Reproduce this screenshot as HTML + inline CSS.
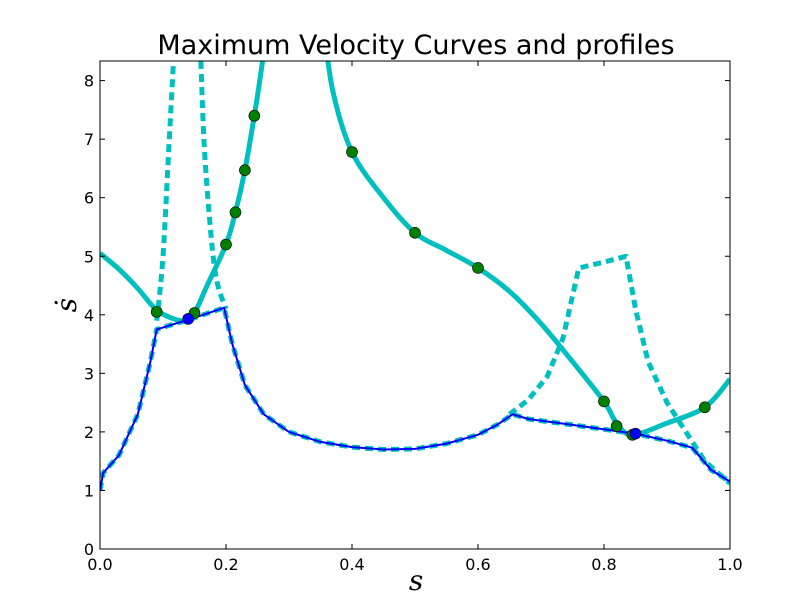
<!DOCTYPE html>
<html><head><meta charset="utf-8"><style>
body{margin:0;background:#fff;}
svg{display:block;font-family:"Liberation Sans","DejaVu Sans",sans-serif;}
</style></head><body>
<svg id="chart" width="812" height="612">
<defs><clipPath id="clip"><rect x="100" y="61" width="630" height="488"/></clipPath></defs>
<rect x="0" y="0" width="812" height="612" fill="#fff"/>
<text x="416" y="54" font-size="27" text-anchor="middle" font-family="DejaVu Sans,sans-serif">Maximum Velocity Curves and profiles</text>
<g id="plot" clip-path="url(#clip)"></g>
<g id="axes"></g>
<rect x="100" y="61" width="630" height="488" fill="none" stroke="#000" stroke-width="1"/>
<text x="416" y="590" font-size="28" font-style="italic" font-family="DejaVu Serif,serif" text-anchor="middle">s</text>
<text x="76" y="305" font-size="28" font-style="italic" font-family="DejaVu Serif,serif" text-anchor="middle" transform="rotate(-90 76 305)">ṡ</text>
</svg>
<script>
const xTicks=[0,0.2,0.4,0.6,0.8,1.0];
const xTickLabels=["0.0","0.2","0.4","0.6","0.8","1.0"];
const yTicks=[0,1,2,3,4,5,6,7,8];
const mvcLeftS=[0,0.03,0.06,0.09,0.12,0.14,0.15,0.17,0.2,0.215,0.23,0.245,0.255,0.265];
const mvcLeftV=[5.05,4.78,4.45,4.08,3.92,3.9,4.02,4.5,5.2,5.75,6.47,7.4,8.1,8.9];
const mvcRightS=[0.355,0.37,0.4,0.45,0.5,0.55,0.6,0.65,0.7,0.75,0.8,0.82,0.845,0.9,0.96,1.0];
const mvcRightV=[8.9,7.8,6.78,6.0,5.4,5.1,4.8,4.4,3.85,3.2,2.52,2.15,1.95,2.15,2.42,2.9];
const dashAS=[0.09,0.1,0.11,0.12];
const dashAV=[3.9,5.0,7.0,9.0];
const dashBS=[0.158,0.165,0.175,0.185,0.2];
const dashBV=[9.0,7.0,5.5,4.6,4.1];
const dashCS=[0.65,0.68,0.71,0.735,0.76,0.8,0.835,0.85,0.87,0.9,0.93,0.96,1.0];
const dashCV=[2.3,2.55,2.95,3.6,4.8,4.9,5.0,4.1,3.2,2.5,2.0,1.5,1.12];
const profS=[0,0.005,0.03,0.06,0.08,0.09,0.15,0.197,0.21,0.23,0.26,0.3,0.35,0.4,0.45,0.5,0.55,0.6,0.63,0.655,0.68,0.75,0.85,0.9,0.94,0.97,1.0];
const profV=[1.0,1.3,1.6,2.3,3.2,3.75,3.95,4.12,3.5,2.8,2.3,2.0,1.83,1.74,1.7,1.71,1.8,1.95,2.12,2.3,2.22,2.12,1.97,1.85,1.73,1.35,1.15];
const greenS=[0.09,0.15,0.2,0.215,0.23,0.245,0.4,0.5,0.6,0.8,0.82,0.845,0.96];
const greenV=[4.05,4.03,5.2,5.75,6.47,7.4,6.78,5.4,4.8,2.52,2.1,1.95,2.42];
const blueS=[0.14,0.85];
const blueV=[3.93,1.97];
const X=s=>100+s*630, Y=v=>549-v*58.55;
const NS="http://www.w3.org/2000/svg";
const plot=document.getElementById('plot'), axes=document.getElementById('axes');
function pathD(xs,ys,smooth){
  const P=xs.map((s,i)=>[X(s),Y(ys[i])]);
  if(!smooth) return P.map((p,i)=>(i?'L':'M')+p[0].toFixed(1)+','+p[1].toFixed(1)).join('');
  let d='M'+P[0][0].toFixed(1)+','+P[0][1].toFixed(1);
  for(let i=0;i<P.length-1;i++){
    const p0=P[Math.max(0,i-1)],p1=P[i],p2=P[i+1],p3=P[Math.min(P.length-1,i+2)];
    const c1=[p1[0]+(p2[0]-p0[0])/6,p1[1]+(p2[1]-p0[1])/6];
    const c2=[p2[0]-(p3[0]-p1[0])/6,p2[1]-(p3[1]-p1[1])/6];
    d+='C'+c1.map(v=>v.toFixed(1))+' '+c2.map(v=>v.toFixed(1))+' '+p2.map(v=>v.toFixed(1));
  }
  return d;
}
function path(xs,ys,color,w,dash,name,smooth){
  const p=document.createElementNS(NS,'path');
  p.setAttribute('d',pathD(xs,ys,smooth));
  p.setAttribute('fill','none');p.setAttribute('stroke',color);p.setAttribute('stroke-width',w);
  p.setAttribute('stroke-linejoin','round');
  if(dash)p.setAttribute('stroke-dasharray',dash);
  
  
  plot.appendChild(p);
}
path(profS,profV,'#00bfbf',5,'8,5','profile-dashed',false);
path(mvcLeftS,mvcLeftV,'#00bfbf',5,null,'mvc-left',true);
path(mvcRightS,mvcRightV,'#00bfbf',5,null,'mvc-right',true);
path(dashAS,dashAV,'#00bfbf',5,'8,5','mvc-dashed-a',true);
path(dashBS,dashBV,'#00bfbf',5,'8,5','mvc-dashed-b',true);
path(dashCS,dashCV,'#00bfbf',5,'8,5','mvc-dashed-c',false);
path(profS,profV,'#0000ff',2,null,'velocity-profile',false);
function dots(xs,ys,color,name){
  xs.forEach((s,i)=>{const c=document.createElementNS(NS,'circle');
  c.setAttribute('cx',X(s));c.setAttribute('cy',Y(ys[i]));c.setAttribute('r',5.5);
  c.setAttribute('fill',color);c.setAttribute('stroke','#000');c.setAttribute('stroke-width',0.6);
  
  
  plot.appendChild(c);});
}
dots(greenS,greenV,'#008000','switch-point');
dots(blueS,blueV,'#0000ff','tangent-point');
function line(x1,y1,x2,y2){const l=document.createElementNS(NS,'line');
  l.setAttribute('x1',x1);l.setAttribute('y1',y1);l.setAttribute('x2',x2);l.setAttribute('y2',y2);
  l.setAttribute('stroke','#000');axes.appendChild(l);}
function text(x,y,t,anchor,name){const e=document.createElementNS(NS,'text');
  e.setAttribute('x',x);e.setAttribute('y',y);e.setAttribute('font-size',16);e.setAttribute('font-family','DejaVu Sans,sans-serif');e.setAttribute('text-anchor',anchor);e.textContent=t;
  
  
  axes.appendChild(e);}
xTicks.forEach((s,i)=>{line(X(s),549,X(s),544);line(X(s),61,X(s),66);text(X(s),570,xTickLabels[i],'middle','x-tick-label');});
yTicks.forEach(v=>{line(100,Y(v),105,Y(v));line(730,Y(v),725,Y(v));text(94,Y(v)+6,String(v),'end','y-tick-label');});
</script>
</body></html>
